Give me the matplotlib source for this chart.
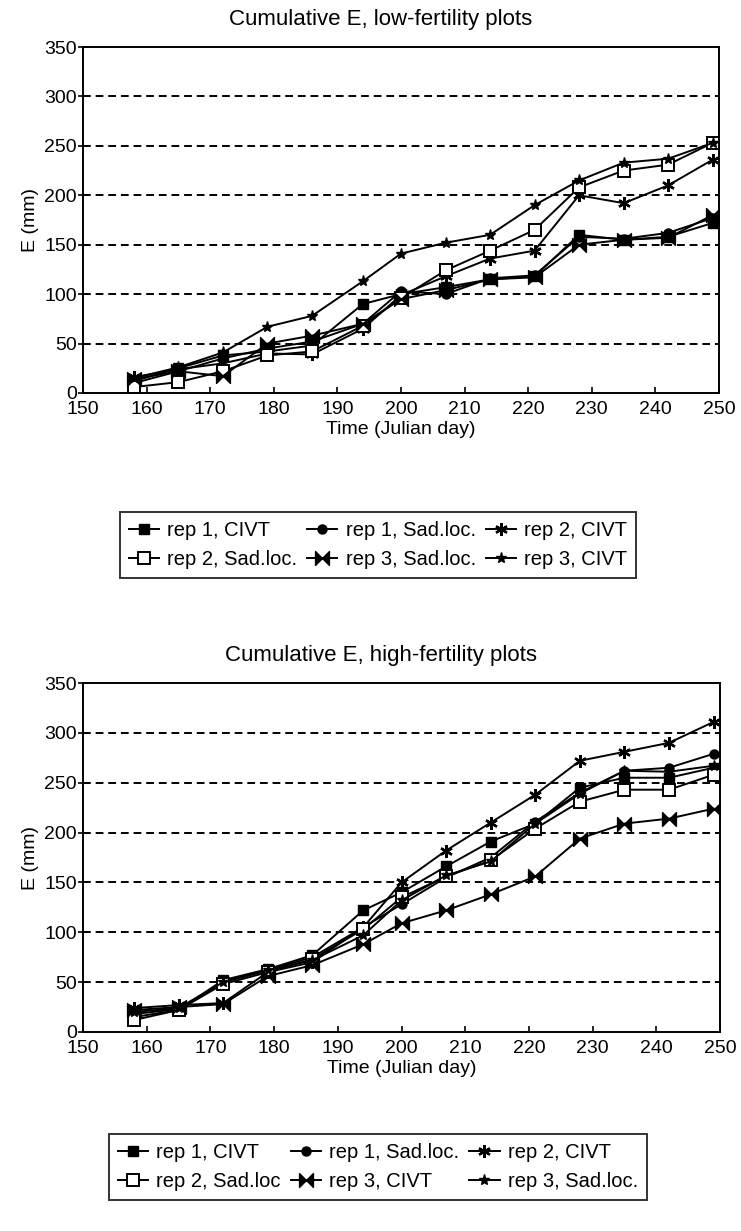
import numpy as np
import matplotlib.pyplot as plt
from matplotlib.path import Path

plt.rcParams['font.family'] = ['Liberation Sans', 'DejaVu Sans']

days = [158, 165, 172, 179, 186, 194, 200, 207, 214, 221, 228, 235, 242, 249]

# low-fertility plots
low_rep1_civt = [12, 25, 38, 42, 48, 90, 100, 107, 115, 118, 160, 155, 158, 172]
low_rep1_sad = [10, 22, 35, 45, 52, 70, 103, 100, 116, 119, 158, 156, 162, 177]
low_rep2_civt = [16, 24, 30, 40, 39, 65, 99, 118, 136, 144, 200, 192, 210, 236]
low_rep2_sad = [6, 11, 22, 38, 42, 68, 96, 124, 144, 165, 208, 225, 231, 253]
low_rep3_sad = [14, 22, 17, 50, 58, 70, 95, 104, 115, 117, 150, 155, 157, 180]
low_rep3_civt = [15, 26, 41, 67, 78, 113, 141, 152, 160, 190, 215, 233, 237, 253]

# high-fertility plots
high_rep1_civt = [15, 22, 52, 63, 77, 122, 140, 166, 191, 209, 245, 255, 255, 265]
high_rep1_sad = [18, 23, 50, 62, 75, 105, 128, 155, 175, 211, 240, 262, 265, 279]
high_rep2_civt = [24, 27, 29, 60, 70, 105, 150, 182, 210, 238, 272, 281, 290, 311]
high_rep2_sad = [12, 22, 48, 60, 73, 103, 135, 156, 172, 204, 231, 243, 243, 258]
high_rep3_civt = [22, 25, 28, 56, 67, 88, 109, 122, 138, 156, 194, 209, 214, 224]
high_rep3_sad = [20, 24, 50, 62, 72, 97, 132, 157, 171, 209, 239, 262, 261, 267]

low_labels = ['rep 1, CIVT', 'rep 1, Sad.loc.', 'rep 2, CIVT',
              'rep 2, Sad.loc.', 'rep 3, Sad.loc.', 'rep 3, CIVT']
high_labels = ['rep 1, CIVT', 'rep 1, Sad.loc.', 'rep 2, CIVT',
               'rep 2, Sad.loc', 'rep 3, CIVT', 'rep 3, Sad.loc.']

bowtie = Path([(-1, -1), (1, 1), (1, -1), (-1, 1), (-1, -1)],
              [Path.MOVETO, Path.LINETO, Path.LINETO, Path.LINETO, Path.CLOSEPOLY])

sty = {
    'sq': dict(marker='s', ms=7, mfc='black'),
    'ci': dict(marker='o', ms=6.5, mfc='black'),
    'ast': dict(marker=(6, 2, 0), ms=9, mew=1.7),
    'osq': dict(marker='s', ms=8.5, mfc='white', mew=1.4),
    'bow': dict(marker=bowtie, ms=10, mfc='black'),
    'star': dict(marker='*', ms=8, mfc='black'),
}

W, H = 741.0, 1231.0


def panel(ax, series, labels, title, title_y):
    handles = []
    for (ys, key), lab in zip(series, labels):
        h, = ax.plot(days, ys, color='black', lw=1.4, mec='black', label=lab,
                     **sty[key])
        handles.append(h)
    ax.set_xlim(150, 250)
    ax.set_ylim(0, 350)
    ax.set_xticks(range(150, 251, 10))
    ax.set_yticks(range(0, 351, 50))
    for y in range(50, 301, 50):
        ax.axhline(y, color='black', lw=1.4, ls=(0, (4, 2.5)), zorder=0)
    for s in ax.spines.values():
        s.set_linewidth(1.4)
    ax.tick_params(axis='x', direction='in', length=4, width=1.2, labelsize=14, pad=6)
    ax.tick_params(axis='y', direction='inout', length=7, width=1.2, labelsize=14, pad=1)
    ax.set_xlabel('Time (Julian day)', fontsize=14, labelpad=2)
    ax.set_ylabel('E (mm)', fontsize=14, labelpad=4)
    fig.text(381 / W, 1 - title_y / H, title, fontsize=16, ha='center', va='center')
    return handles


fig = plt.figure(figsize=(7.41, 12.31), dpi=100)
ax1 = fig.add_axes([83 / W, 1 - 393 / H, 636 / W, 346 / H])
ax2 = fig.add_axes([83 / W, 1 - 1032 / H, 637 / W, 349 / H])

h1 = panel(ax1, [(low_rep1_civt, 'sq'), (low_rep1_sad, 'ci'), (low_rep2_civt, 'ast'),
                 (low_rep2_sad, 'osq'), (low_rep3_sad, 'bow'), (low_rep3_civt, 'star')],
           low_labels, 'Cumulative E, low-fertility plots', 19)
h2 = panel(ax2, [(high_rep1_civt, 'sq'), (high_rep1_sad, 'ci'), (high_rep2_civt, 'ast'),
                 (high_rep2_sad, 'osq'), (high_rep3_civt, 'bow'), (high_rep3_sad, 'star')],
           high_labels, 'Cumulative E, high-fertility plots', 655)

order = [0, 3, 1, 4, 2, 5]
for hs, ytop in [(h1, 512), (h2, 1134)]:
    leg = fig.legend([hs[i] for i in order], [hs[i].get_label() for i in order],
                     ncol=3, loc='upper center', bbox_to_anchor=(378 / W, 1 - ytop / H),
                     fontsize=14.5, frameon=True, fancybox=False, edgecolor='black',
                     handlelength=1.5, columnspacing=0.5, handletextpad=0.4,
                     borderpad=0.45, labelspacing=0.5, borderaxespad=0)
    leg.get_frame().set_linewidth(1.4)

fig.savefig('out.png', dpi=100)
